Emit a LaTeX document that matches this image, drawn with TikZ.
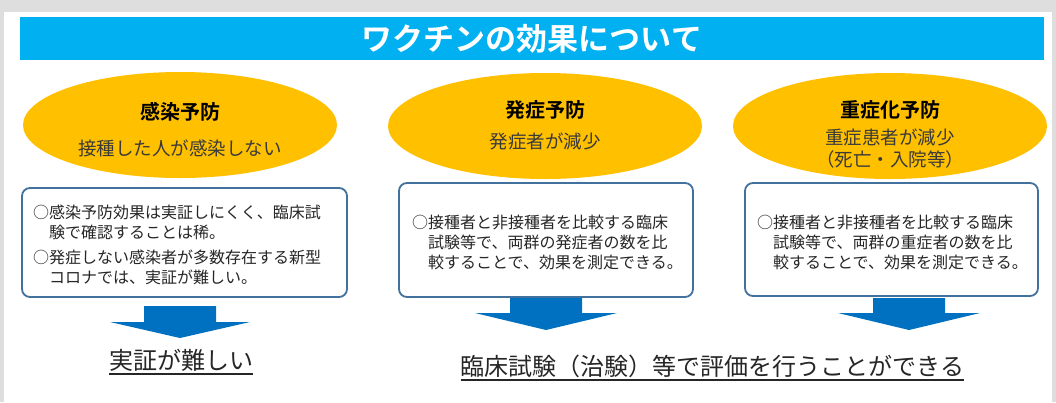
\documentclass[tikz,border=0pt]{standalone}
\usepackage{fontspec}
\setmainfont{Noto Sans CJK JP}[BoldFont={Noto Sans CJK JP Bold}]
\usetikzlibrary{shapes.geometric}
\definecolor{barc}{HTML}{00B0F0}
\definecolor{ellc}{HTML}{FFC000}
\definecolor{bordc}{HTML}{41719C}
\definecolor{arrc}{HTML}{0070C0}
\definecolor{txtc}{HTML}{262626}
\definecolor{subc}{HTML}{3A3A3A}
\definecolor{bgc}{HTML}{DEDEDE}
\tikzset{
  ellbox/.style={ellipse, fill=ellc, minimum width=314pt, minimum height=106pt, inner sep=0pt},
  elltitle/.style={font=\bfseries\fontsize{20}{20}\selectfont, text=black, inner sep=0pt},
  ellsub/.style={font=\fontsize{18.5}{22}\selectfont, text=subc, inner sep=0pt, align=center},
  infobox/.style={draw=bordc, line width=1.8pt, rounded corners=8pt, fill=white, inner sep=0pt},
  infotext/.style={font=\fontsize{16}{20}\selectfont, text=txtc, inner sep=0pt, align=left, anchor=west},
  result/.style={font=\fontsize{24}{24}\selectfont, text=txtc, inner sep=0pt, anchor=base},
  uline/.style={line width=1.3pt, draw=txtc},
  bigarrow/.style={fill=arrc}
}
\begin{document}
\begin{tikzpicture}[x=1pt,y=-1pt]
\fill[bgc] (0,0) rectangle (1056,402);
\fill[white] (4,12) rectangle (1052,402);
\useasboundingbox (0,0) rectangle (1056,402);

% title bar
\node[fill=barc, minimum width=1024pt, minimum height=43pt, inner sep=0pt,
      text=white, font=\bfseries\fontsize{31}{31}\selectfont] (title) at (532,38.5) {ワクチンの効果について};

% ellipses
\node[ellbox] (e1) at (180,125) {};
\node[elltitle] (e1t) at (180,112) {感染予防};
\node[ellsub] (e1s) at (180,148) {接種した人が感染しない};

\node[ellbox] (e2) at (545,126) {};
\node[elltitle] (e2t) at (545,110) {発症予防};
\node[ellsub] (e2s) at (545,141) {発症者が減少};

\node[ellbox] (e3) at (890,126) {};
\node[elltitle] (e3t) at (890,110) {重症化予防};
\node[ellsub] (e3s) at (890,149) {重症患者が減少\\（死亡・入院等）};

% boxes
\node[infobox, minimum width=325pt, minimum height=109pt] (b1) at (184.5,242.5) {};
\node[infotext] (t1) at (33,245) {○感染予防効果は実証しにくく、臨床試\\\hspace*{1em}験で確認することは稀。\\[5pt]○発症しない感染者が多数存在する新型\\\hspace*{1em}コロナでは、実証が難しい。};

\node[infobox, minimum width=294pt, minimum height=114pt] (b2) at (546,240) {};
\node[infotext] (t2) at (412,242) {○接種者と非接種者を比較する臨床\\\hspace*{1em}試験等で、両群の発症者の数を比\\\hspace*{1em}較することで、効果を測定できる。};

\node[infobox, minimum width=293pt, minimum height=113pt] (b3) at (891.5,239.5) {};
\node[infotext] (t3) at (757,242) {○接種者と非接種者を比較する臨床\\\hspace*{1em}試験等で、両群の重症者の数を比\\\hspace*{1em}較することで、効果を測定できる。};

% block arrows
\fill[bigarrow] (144,306) -- (216,306) -- (216,322) -- (250,322) -- (180,338) -- (110,322) -- (144,322) -- cycle;
\fill[bigarrow] (510,298) -- (582,298) -- (582,313) -- (617,313) -- (546,330) -- (475,313) -- (510,313) -- cycle;
\fill[bigarrow] (873,298) -- (945,298) -- (945,313) -- (980,313) -- (909,330) -- (838,313) -- (873,313) -- cycle;

% results
\node[result] (r1) at (181,369) {実証が難しい};
\draw[uline] ([yshift=-5pt]r1.base west) -- ([yshift=-5pt]r1.base east);
\node[result] (r2) at (712.5,375) {臨床試験（治験）等で評価を行うことができる};
\draw[uline] ([yshift=-5pt]r2.base west) -- ([yshift=-5pt]r2.base east);
\end{tikzpicture}
\end{document}
